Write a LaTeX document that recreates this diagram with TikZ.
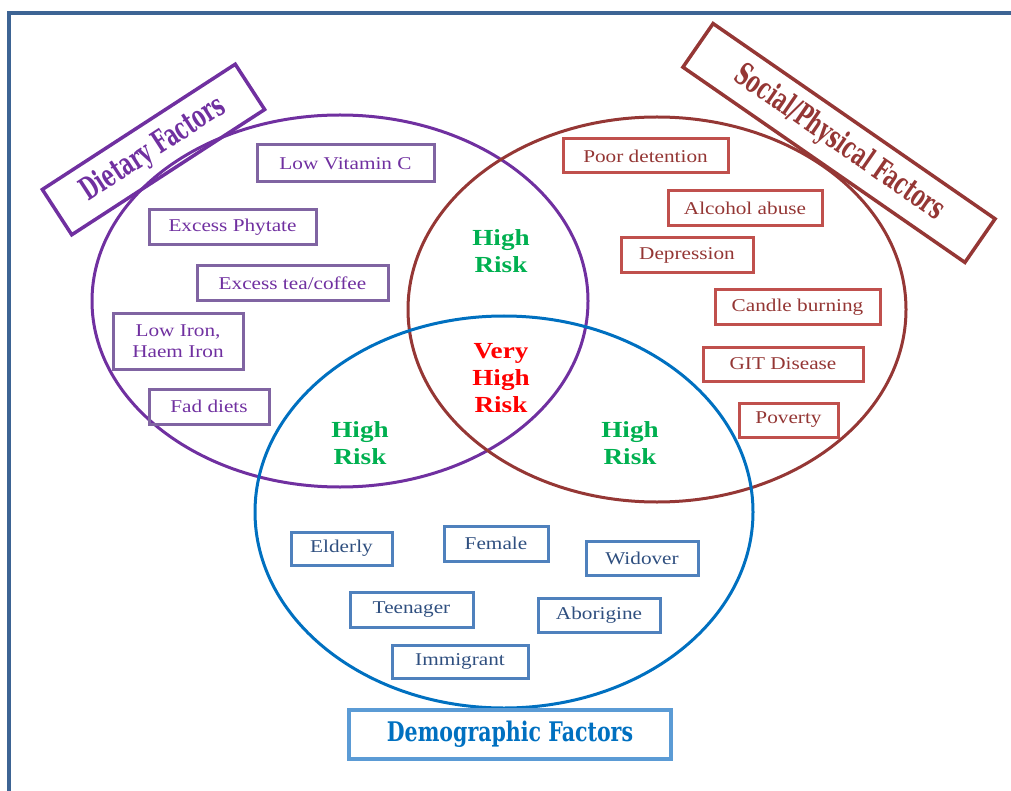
\documentclass[tikz,border=0pt]{standalone}
\usepackage{fontspec}
\setmainfont{Liberation Serif}[FakeStretch=1.18]
\newfontfamily\hfont{DejaVu Serif}[FakeStretch=0.62]
\newfontfamily\dfont{DejaVu Serif}[FakeStretch=0.76]
\definecolor{frame}{HTML}{3D6494}
\definecolor{pur}{HTML}{7030A0}
\definecolor{purbox}{HTML}{8064A2}
\definecolor{brn}{HTML}{953735}
\definecolor{brnbox}{HTML}{C0504D}
\definecolor{brntxt}{HTML}{943634}
\definecolor{blu}{HTML}{0070C0}
\definecolor{blubox}{HTML}{4F81BD}
\definecolor{blutxt}{HTML}{2F4F7F}
\definecolor{demobox}{HTML}{5B9BD5}
\definecolor{grn}{HTML}{00B050}
\definecolor{vred}{HTML}{FF0000}
\tikzset{
  venn/.style={line width=3pt},
  item/.style={draw, line width=3pt, inner sep=0pt, align=center,
    font=\fontsize{18}{21}\selectfont},
  pitem/.style={item, draw=purbox, text=pur},
  bitem/.style={item, draw=brnbox, text=brntxt},
  dmitem/.style={item, draw=blubox, text=blutxt},
  risk/.style={align=center, font=\fontsize{23}{27}\selectfont\bfseries},
  header/.style={draw, line width=3.5pt, inner sep=0pt, font=\fontsize{31}{33}\selectfont\hfont\bfseries}
}
\begin{document}
\begin{tikzpicture}[x=1pt,y=-1pt]
\useasboundingbox (0,0) rectangle (1011,791);
% frame
\coordinate (ftl) at (9,13);
\coordinate (ftr) at (1011,13);
\coordinate (fbl) at (9,791);
\draw[frame, line width=3.5pt] (ftr) -- (ftl) -- (fbl);
% ellipses
\draw[venn, pur] (340,301) ellipse [x radius=248pt, y radius=186pt];
\draw[venn, brn] (657,309.5) ellipse [x radius=249pt, y radius=192.5pt];
\draw[venn, blu] (504,512) ellipse [x radius=249pt, y radius=196pt];
% headers
\node[header, draw=pur, text=pur, rotate=33, minimum width=230pt, minimum height=54pt] (diet) at (153.5,149.5) {Dietary Factors};
\node[header, draw=brn, text=brn, rotate=-34.7, minimum width=343pt, minimum height=53pt] (soc) at (839,143) {Social/Physical Factors};
\node[draw=demobox, line width=3.5pt, inner sep=0pt, text=blu, minimum width=322pt, minimum height=49pt, font=\fontsize{27}{29}\selectfont\dfont\bfseries] (demo) at (510,734.5) {Demographic Factors};
% dietary items
\node[pitem, minimum width=177pt, minimum height=37pt] (lowc) at (345.5,163.5) {Low Vitamin C};
\node[pitem, minimum width=167pt, minimum height=35pt] (phyt) at (232.5,227.5) {Excess Phytate};
\node[pitem, minimum width=191pt, minimum height=35pt] (tea) at (292.5,283.5) {Excess tea/coffee};
\node[pitem, minimum width=130pt, minimum height=55pt] (iron) at (178,341.5) {Low Iron,\\Haem Iron};
\node[pitem, minimum width=120pt, minimum height=35pt] (fad) at (209,406.5) {Fad diets};
% social items
\node[bitem, minimum width=165pt, minimum height=34pt] (poor) at (645.5,156) {Poor detention};
\node[bitem, minimum width=154pt, minimum height=35pt] (alco) at (745,208.5) {Alcohol abuse};
\node[bitem, minimum width=132pt, minimum height=35pt] (depr) at (687,255.5) {Depression};
\node[bitem, minimum width=165pt, minimum height=34pt] (cand) at (797.5,307) {Candle burning};
\node[bitem, minimum width=160pt, minimum height=34pt] (git) at (783,364) {GIT Disease};
\node[bitem, minimum width=99pt, minimum height=34pt] (pov) at (788.5,420) {Poverty};
% demographic items
\node[dmitem, minimum width=101pt, minimum height=33pt] (eld) at (341.5,548.5) {Elderly};
\node[dmitem, minimum width=104pt, minimum height=35pt] (fem) at (496,543.5) {Female};
\node[dmitem, minimum width=112pt, minimum height=34pt] (wid) at (642,558) {Widover};
\node[dmitem, minimum width=123pt, minimum height=35pt] (teen) at (411.5,609.5) {Teenager};
\node[dmitem, minimum width=122pt, minimum height=34pt] (abo) at (599,615) {Aborigine};
\node[dmitem, minimum width=136pt, minimum height=33pt] (imm) at (460,661.5) {Immigrant};
% risk labels
\node[risk, text=grn] (r1) at (501,251) {High\\Risk};
\node[risk, text=grn] (r2) at (360,443) {High\\Risk};
\node[risk, text=grn] (r3) at (630,443) {High\\Risk};
\node[risk, text=vred] (r4) at (501,378) {Very\\High\\Risk};
\end{tikzpicture}
\end{document}
